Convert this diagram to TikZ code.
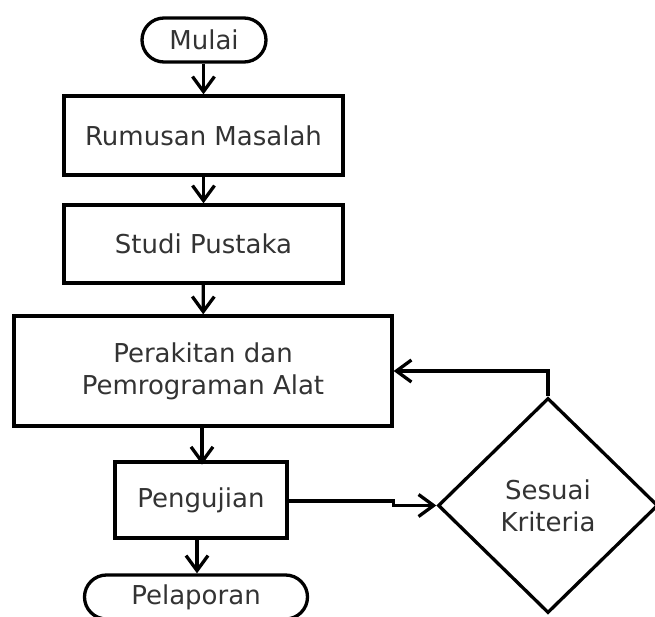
\documentclass[tikz,border=0pt]{standalone}
\usepackage{fontspec}
\setmainfont{DejaVu Sans}
\usetikzlibrary{shapes.geometric,arrows.meta}
\definecolor{txt}{rgb}{0.2,0.2,0.2}
\begin{document}
\begin{tikzpicture}[x=1pt,y=-1pt,
  every node/.style={font=\fontsize{26}{32}\selectfont, text=txt, align=center, inner sep=0pt},
  box/.style={draw=black, line width=3.3pt, rectangle},
  term/.style={draw=black, line width=3.3pt, rectangle, rounded corners=22pt, minimum height=44pt},
  decide/.style={draw=black, line width=3.3pt, diamond, minimum width=220pt, minimum height=215pt},
  conn/.style={line width=3.3pt, -{Straight Barb[length=15pt,width=22pt,line width=3.3pt]}}
]
\useasboundingbox (0,0) rectangle (655,617);
\node[term, minimum width=124pt] (mulai) at (204,40) {Mulai};
\node[box, minimum width=279pt, minimum height=79pt] (rumus) at (203.5,135.5) {Rumusan Masalah};
\node[box, minimum width=279pt, minimum height=78pt] (studi) at (203.5,244) {Studi Pustaka};
\node[box, minimum width=378pt, minimum height=110pt] (rakit) at (203,371) {Perakitan dan\\Pemrograman Alat};
\node[box, minimum width=172pt, minimum height=76pt] (uji) at (201,500) {Pengujian};
\node[term, minimum width=223pt] (lapor) at (196,597) {Pelaporan};
\node[decide] (sesuai) at (548,505.5) {Sesuai\\Kriteria};
\draw[conn] (mulai.south -| rumus.north) -- (rumus.north);
\draw[conn] (rumus) -- (studi);
\draw[conn] (studi) -- (rakit);
\draw[conn] (rakit.south -| uji.north) ++(1,0) -- ++(0,37);
\draw[conn] (uji.south) ++(-4,0) coordinate (u1) -- (u1 |- lapor.north);
\draw[conn] (uji.east) ++(0,1) -- ++(105,0) |- (sesuai.west);
\draw[conn] (sesuai.north) |- (rakit.east);
\end{tikzpicture}
\end{document}
